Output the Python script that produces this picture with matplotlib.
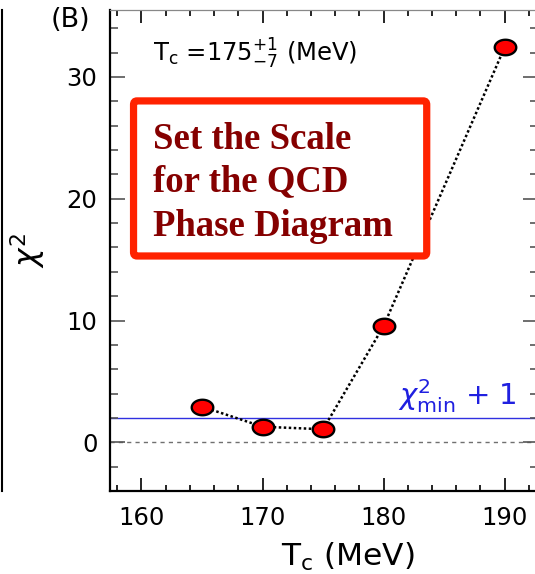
import numpy as np
import matplotlib
matplotlib.use("Agg")
import matplotlib.pyplot as plt
from matplotlib.path import Path
from matplotlib.patches import FancyBboxPatch
from matplotlib.ticker import MultipleLocator

# ---- data ----
tc = [165, 170, 175, 180, 190]
chi2 = [2.93, 1.28, 1.07, 9.55, 32.45]
chi2_min_plus1 = 2.02
x_major = [160, 170, 180, 190]
y_major = [0, 10, 20, 30]

plt.rcParams['font.family'] = ['DejaVu Sans']
plt.rcParams['mathtext.fontset'] = 'dejavusans'

W, H = 535, 574
fig = plt.figure(figsize=(W / 100, H / 100), dpi=100)
ax = fig.add_axes([110 / W, 83 / H, (538 - 110) / W, (491 - 10) / H])

ax.set_xlim(157.4, 192.75)
ax.set_ylim(-4.0, 35.5)

# reference lines
ax.axhline(0, color='#707070', lw=1.0, ls=(0, (3, 3)), zorder=1)
ax.axhline(chi2_min_plus1, color='#3030e0', lw=1.0, zorder=1)

# ellipse marker
t = np.linspace(0, 2 * np.pi, 60)
verts = np.column_stack([np.cos(t), 0.72 * np.sin(t)])
ell = Path(verts, closed=True)

ax.plot(tc, chi2, color='black', lw=1.8, ls=(0, (1, 1.0)), zorder=2)
ax.plot(tc, chi2, ls='none', marker=ell, ms=15.5, mfc='#ff0000', mec='black',
        mew=1.7, zorder=5)

# ticks
ax.xaxis.set_minor_locator(MultipleLocator(2))
ax.yaxis.set_minor_locator(MultipleLocator(2))
ax.set_xticks(x_major)
ax.set_yticks(y_major)
ax.tick_params(axis='x', which='both', direction='in', top=True, bottom=True,
               color='black', width=1.2, labelsize=17.5, pad=11)
ax.tick_params(axis='x', which='major', length=9.5)
ax.tick_params(axis='x', which='minor', length=4.5)
ax.tick_params(axis='y', which='both', direction='in', left=True, right=True,
               color='#555555', width=1.2, labelsize=17.5, pad=9)
ax.tick_params(axis='y', which='major', length=11)
ax.tick_params(axis='y', which='minor', length=6)

for s in ['left', 'bottom']:
    ax.spines[s].set_linewidth(1.6)
    ax.spines[s].set_color('black')
ax.spines['top'].set_linewidth(0.9)
ax.spines['top'].set_color('#888888')
ax.spines['right'].set_linewidth(1.6)

# annotation box
box = FancyBboxPatch((0.055, 0.4886), 0.740 - 0.055, 0.811 - 0.4886,
                     boxstyle='round,pad=0,rounding_size=0.008',
                     transform=ax.transAxes, fc='white', ec='#ff2200',
                     lw=5.2, zorder=3)
ax.add_patch(box)
lines = ['Set the Scale', 'for the QCD', 'Phase Diagram']
ys = [0.710, 0.6237, 0.530]
for s, yy in zip(lines, ys):
    ax.text(0.1007, yy, s, transform=ax.transAxes, fontsize=26.5,
            fontweight='bold', family='Liberation Serif', color='#850000',
            va='baseline', ha='left', zorder=4)

ax.text(0.1007, 0.892, r'T$_{\rm c}$ =175$^{+1}_{-7}$ (MeV)',
        transform=ax.transAxes, fontsize=17.5, va='baseline', ha='left',
        zorder=4)

ax.text(181.2, 3.1, r'$\chi^2_{\rm min}$ + 1', color='#2020e0',
        fontsize=21, va='baseline', ha='left', zorder=4)

# figure-level text
fig.text(50.5 / W, 1 - 20 / H, '(B)', fontsize=19.5, ha='left', va='center')
fig.text(28 / W, 1 - 250 / H, r'$\chi^2$', fontsize=22.5, rotation=90,
         ha='center', va='center')
fig.text(348 / W, 1 - 565.7 / H, r'T$_{\rm c}$ (MeV)', fontsize=22.5,
         ha='center', va='baseline')

# left panel edge line
fig.add_artist(plt.Line2D([2 / W, 2 / W], [1 - 10 / H, 1 - 491 / H],
                          transform=fig.transFigure, color='black', lw=1.5))

fig.savefig('out.png', dpi=100)
